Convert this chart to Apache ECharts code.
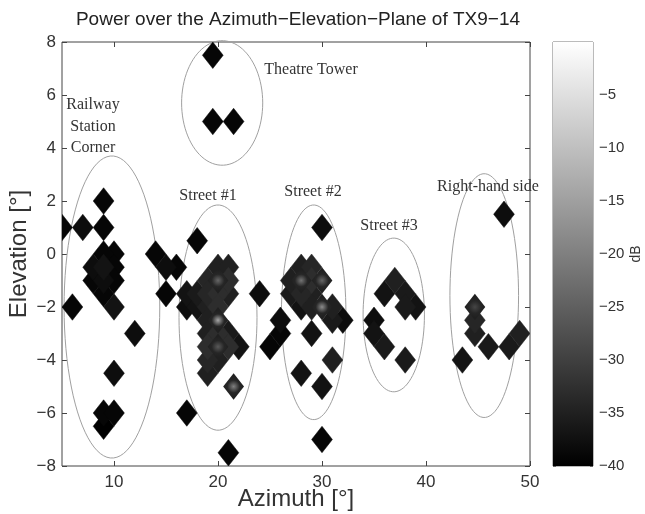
<!DOCTYPE html>
<html><head><meta charset="utf-8">
<script src="https://cdn.jsdelivr.net/npm/echarts@6/dist/echarts.min.js"></script>
<style>html,body{margin:0;padding:0;background:#fff}#c{width:645px;height:514px}</style>
</head><body><div id="c"></div><script>
// ---- tick labels ----
const xTicks = [10, 20, 30, 40, 50];
const cbTicks = [-40, -35, -30, -25, -20, -15, -10, -5];

// ---- measured points: [azimuth deg, elevation deg, power dB] ----
const railwayStation = [
  [9, 2, -39], [5, 1, -39], [7, 1, -38], [9, 1, -39],
  [10, 0, -39], [9, 0, -39], [8, -0.5, -38], [9, -0.5, -37], [10, -0.5, -39],
  [8, -1, -39], [9, -1, -38], [10, -1, -39], [9, -1.5, -39], [10, -2, -37],
  [6, -2, -39], [12, -3, -38], [10, -4.5, -38],
  [9, -6, -39], [10, -6, -39], [9, -6.5, -40]
];
const betweenClusters = [
  [14, 0, -39], [15, -0.5, -38], [16, -0.5, -39], [15, -1.5, -39],
  [18, 0.5, -39], [24, -1.5, -38], [17, -6, -39], [21, -7.5, -39],
  [26, -2.5, -38], [26, -3, -39], [25, -3.5, -39]
];
const theatreTower = [[19.5, 7.5, -39], [19.5, 5, -39], [21.5, 5, -39]];
const street1 = [
  [20, -0.5, -35], [21, -0.5, -35],
  [19, -1, -34], [20, -1, -24], [21, -1, -33],
  [17, -1.5, -37], [18, -1.5, -36], [19, -1.5, -34], [20, -1.5, -33], [21, -1.5, -35],
  [17, -2, -38], [18, -2, -37], [19, -2, -35], [20, -2, -33],
  [19, -2.5, -35], [20, -2.5, -14],
  [19, -3, -35], [20, -3, -33], [21, -3, -36],
  [19, -3.5, -33], [20, -3.5, -26], [21, -3.5, -33], [22, -3.5, -37],
  [19, -4, -34], [20, -4, -35], [19, -4.5, -35], [21.5, -5, -20]
];
const street2 = [
  [28, -0.5, -35], [29, -0.5, -34],
  [27, -1, -35], [28, -1, -22], [29, -1, -33], [30, -1, -24],
  [27, -1.5, -36], [28, -1.5, -34], [29, -1.5, -35],
  [28, -2, -37], [29, -2, -35], [30, -2, -18], [31, -2, -35],
  [31, -2.5, -36], [32, -2.5, -38],
  [30, 1, -38], [29, -3, -37], [31, -4, -35], [28, -4.5, -37], [30, -5, -37], [30, -7, -39]
];
const street3 = [
  [36, -1.5, -37], [37, -1, -35], [38, -1.5, -36], [38, -2, -36], [39, -2, -37],
  [35, -2.5, -38], [35, -3, -37], [36, -3.5, -36], [38, -4, -36]
];
const rightHandSide = [
  [47.5, 1.5, -38], [44.7, -2, -29], [44.7, -2.5, -34], [44.7, -3, -35], [46, -3.5, -36],
  [43.5, -4, -37], [49, -3, -35], [48, -3.5, -36]
];

// ---- annotated regions: [centre az, centre el, radius az, radius el] ----
const regionEllipses = [
  [9.8, -2.0, 4.6, 5.7],
  [20.4, 5.7, 3.9, 2.35],
  [20.0, -2.4, 3.75, 4.25],
  [29.2, -2.2, 3.1, 4.05],
  [36.9, -2.3, 2.95, 2.9],
  [45.6, -1.57, 3.3, 4.6]
];
const regionLabels = ['Railway', 'Station', 'Corner', 'Theatre Tower', 'Street #1', 'Street #2', 'Street #3', 'Right-hand side'];
const regionLabelPos = [[93,105],[93,127],[93,148],[311,70],[208,196],[313,192],[389,226],[488,187]];

const points = [].concat(railwayStation, betweenClusters, theatreTower, street1, street2, street3, rightHandSide)
  .slice().sort((a, b) => a[2] - b[2]);

const minus = v => String(v).replace('-', '\u2212');
const SANS = "'Liberation Sans', Arial, sans-serif";
const SERIF = "'Liberation Serif', 'Times New Roman', serif";
const noZero = {show: false, onZero: false};

const chart = echarts.init(document.getElementById('c'), null, {renderer: 'canvas'});
chart.setOption({
  backgroundColor: '#fff',
  animation: false,
  grid: [
    {left: 62, right: 115, top: 42, bottom: 48, show: true, borderColor: '#444', borderWidth: 1,
     backgroundColor: 'transparent', containLabel: false, outerBoundsMode: 'none'},
    {left: 553, top: 42, width: 40, height: 424, show: true, borderColor: '#777', borderWidth: 1,
     containLabel: false, outerBoundsMode: 'none'}
  ],
  xAxis: [
    {gridIndex: 0, type: 'value', min: 5, max: 50, position: 'bottom',
     axisLine: noZero, splitLine: {show: false},
     axisTick: {inside: true, length: 5, customValues: xTicks, lineStyle: {color: '#444'}},
     axisLabel: {customValues: xTicks, fontSize: 17, color: '#333', margin: 8, fontFamily: SANS},
     name: 'Azimuth [\u00b0]', nameLocation: 'middle', nameGap: 21, nameMoveOverlap: false,
     nameTextStyle: {fontSize: 24, color: '#333', fontFamily: SANS}},
    {gridIndex: 0, type: 'value', min: 5, max: 50, position: 'top',
     axisLine: noZero, splitLine: {show: false},
     axisTick: {inside: true, length: 5, customValues: xTicks, lineStyle: {color: '#444'}},
     axisLabel: {show: false}},
    {gridIndex: 1, type: 'value', min: 0, max: 1, show: false, axisLine: noZero}
  ],
  yAxis: [
    {gridIndex: 0, type: 'value', min: -8, max: 8, interval: 2, position: 'left',
     axisLine: noZero, splitLine: {show: false},
     axisTick: {inside: true, length: 5, lineStyle: {color: '#444'}},
     axisLabel: {fontSize: 17, color: '#333', margin: 6, fontFamily: SANS, formatter: minus},
     name: 'Elevation [\u00b0]', nameLocation: 'middle', nameGap: 31, nameRotate: 90, nameMoveOverlap: false,
     nameTextStyle: {fontSize: 24, color: '#333', fontFamily: SANS}},
    {gridIndex: 0, type: 'value', min: -8, max: 8, interval: 2, position: 'right',
     axisLine: noZero, splitLine: {show: false},
     axisTick: {inside: true, length: 5, lineStyle: {color: '#444'}},
     axisLabel: {show: false}},
    {gridIndex: 1, type: 'value', min: -40, max: 0, interval: 5, position: 'right',
     axisLine: noZero, splitLine: {show: false},
     axisTick: {inside: true, length: 3, lineStyle: {color: '#666'}},
     axisLabel: {fontSize: 15, color: '#333', margin: 6, fontFamily: SANS, formatter: minus, showMaxLabel: false},
     name: 'dB', nameLocation: 'middle', nameGap: 36, nameRotate: 90, nameMoveOverlap: false,
     nameTextStyle: {fontSize: 14, color: '#333', fontFamily: SANS}},
    {gridIndex: 1, type: 'value', min: -40, max: 0, interval: 5, position: 'left',
     axisLine: noZero, splitLine: {show: false},
     axisTick: {inside: true, length: 3, lineStyle: {color: '#666'}},
     axisLabel: {show: false}}
  ],
  visualMap: {
    type: 'continuous', show: false, min: -40, max: 0, dimension: 2, seriesIndex: 1,
    inRange: {color: ['#000000', '#ffffff']}
  },
  graphic: [
    {type: 'text', x: 298, y: 20, style: {text: 'Power over the Azimuth\u2212Elevation\u2212Plane of TX9\u221214',
      textAlign: 'center', textVerticalAlign: 'middle', fontSize: 19, fill: '#222', fontFamily: SANS}}
  ].concat(regionLabels.map((t, i) => ({
    type: 'text', x: regionLabelPos[i][0], y: regionLabelPos[i][1], z: 10,
    style: {text: t, textAlign: 'center', textVerticalAlign: 'middle', fontSize: 16, fill: '#333', fontFamily: SERIF}
  }))),
  series: [
    {
      type: 'custom', xAxisIndex: 0, yAxisIndex: 0, clip: false, z: 1,
      data: regionEllipses,
      renderItem: function (params, api) {
        const c = api.coord([api.value(0), api.value(1)]);
        const s = api.size([api.value(2), api.value(3)]);
        const pts = [];
        for (let k = 0; k <= 90; k++) {
          const a = k / 90 * Math.PI * 2;
          pts.push([c[0] + s[0] * Math.cos(a), c[1] + s[1] * Math.sin(a)]);
        }
        return {type: 'polyline', shape: {points: pts}, style: {stroke: '#a0a0a0', lineWidth: 1, fill: null}};
      }
    },
    {
      type: 'custom', xAxisIndex: 0, yAxisIndex: 0, clip: true, z: 2,
      dimensions: ['az', 'el', 'db'],
      encode: {x: 0, y: 1},
      data: points,
      renderItem: function (params, api) {
        const c = api.coord([api.value(0), api.value(1)]);
        const s = api.size([1, 0.5]);
        const col = api.visual('color');
        const bright = api.value(2) > -31;
        const fill = bright ? {type: 'radial', x: 0.5, y: 0.5, r: 0.5,
            colorStops: [{offset: 0, color: col}, {offset: 0.6, color: '#262626'}, {offset: 1, color: '#202020'}]} : col;
        return {
          type: 'polygon',
          shape: {points: [[c[0], c[1] - s[1]], [c[0] + s[0], c[1]], [c[0], c[1] + s[1]], [c[0] - s[0], c[1]]]},
          style: {fill: fill, stroke: bright ? null : col, lineWidth: 0.5}
        };
      }
    },
    {
      type: 'custom', xAxisIndex: 2, yAxisIndex: 2, clip: false, z: 1,
      data: [[-40, 0]],
      renderItem: function (params, api) {
        const p0 = api.coord([0, api.value(1)]);
        const p1 = api.coord([1, api.value(0)]);
        return {
          type: 'rect',
          shape: {x: p0[0], y: p0[1], width: p1[0] - p0[0], height: p1[1] - p0[1]},
          style: {fill: {type: 'linear', x: 0, y: 0, x2: 0, y2: 1,
            colorStops: [{offset: 0, color: '#ffffff'}, {offset: 1, color: '#000000'}]}}
        };
      }
    }
  ]
});
</script></body></html>
